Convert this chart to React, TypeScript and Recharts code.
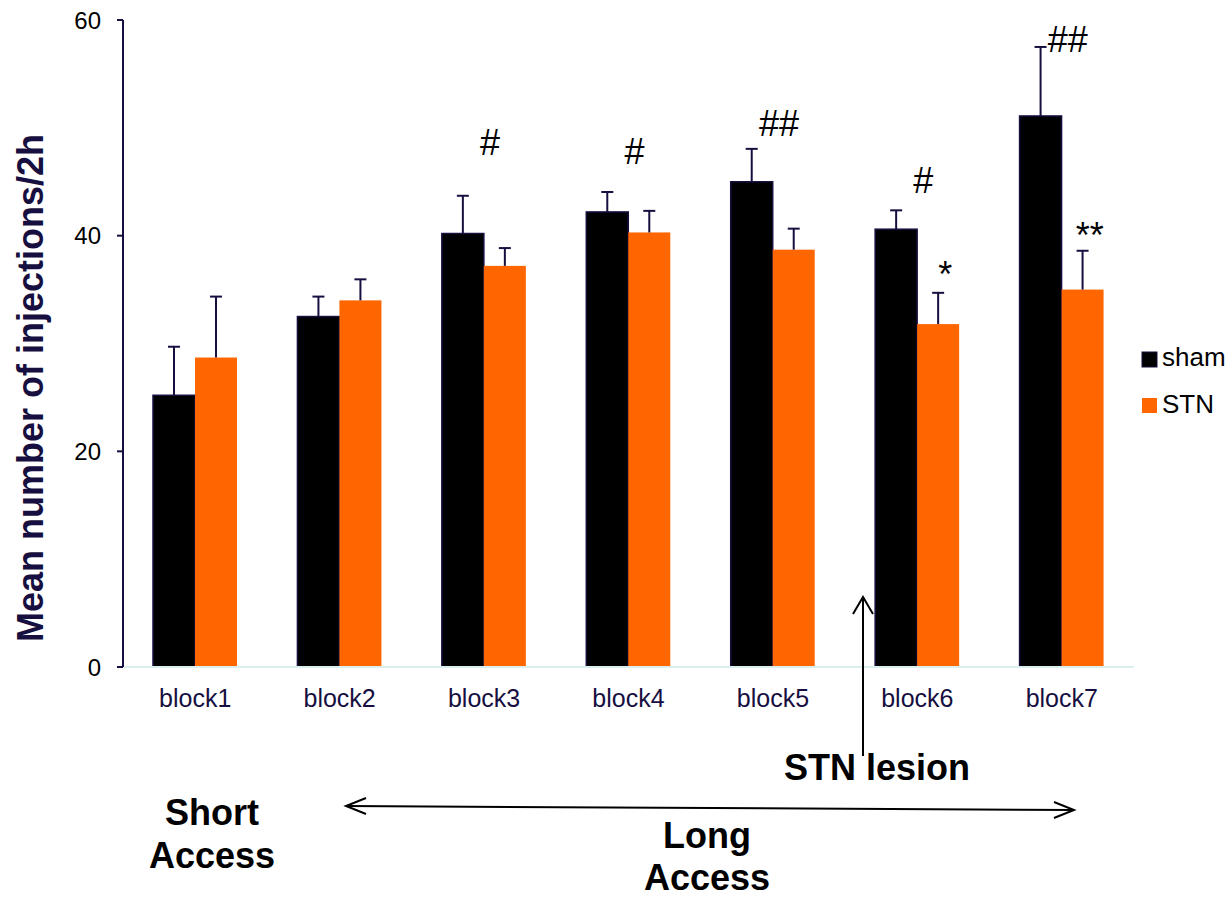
import React from "react";
import { BarChart, Bar, XAxis, YAxis, ReferenceDot } from "recharts";

// values (mean injections per 2h, SEM)
const blocks = ["block1", "block2", "block3", "block4", "block5", "block6", "block7"];
const sham = [25.2, 32.5, 40.2, 42.2, 45.0, 40.6, 51.1];
const shamErr = [4.5, 1.85, 3.5, 1.85, 3.05, 1.75, 6.4];
const stn = [28.7, 34.0, 37.2, 40.3, 38.7, 31.8, 35.0];
const stnErr = [5.65, 1.95, 1.65, 2.0, 1.95, 2.9, 3.6];
const yTicks = [0, 20, 40, 60];

// significance marks and the level (in injections) they sit at
const shamMarks = ["", "", "#", "#", "##", "#", "##"];
const shamMarkLevel = [0, 0, 47.5, 46.6, 49.2, 44.0, 57.0];
const stnMarks = ["", "", "", "", "", "*", "**"];
const stnMarkLevel = [0, 0, 0, 0, 0, 35.2, 38.9];

const data = blocks.map((b, i) => ({
  block: b,
  sham: sham[i],
  shamErr: shamErr[i],
  stn: stn[i],
  stnErr: stnErr[i],
}));

const NAVY = "#160f3f";
const ORANGE = "#ff6600";
const FONT = "'Liberation Sans', Arial, Helvetica, sans-serif";

// bar with a one-sided (upward) error bar, like the original
const barWithError = (errKey: string, valKey: string, fill: string, stroke?: string) =>
  (props: any) => {
    const { x, y, width, height, payload } = props;
    const v = payload[valKey];
    const err = payload[errKey];
    const e = v ? (height / v) * err : 0;
    const cx = x + width / 2;
    return (
      <g>
        <rect x={x} y={y} width={width} height={height} fill={fill}
          stroke={stroke || "none"} strokeWidth={stroke ? 1.5 : 0} />
        <line x1={cx} x2={cx} y1={y} y2={y - e} stroke={NAVY} strokeWidth={2} />
        <line x1={cx - 6} x2={cx + 6} y1={y - e} y2={y - e} stroke={NAVY} strokeWidth={2} />
      </g>
    );
  };

const markShape = (text: string, dx: number) => (p: any) => (
  <text x={p.cx + dx} y={p.cy} textAnchor="middle" fontSize={36}
    fontFamily={FONT} fill="#000">{text}</text>
);

export default function App() {
  return (
    <div style={{ position: "absolute", left: 0, top: 0, width: 1229, height: 897, background: "#fff" }}>
      <BarChart
        width={1229}
        height={897}
        data={data}
        margin={{ top: 20, right: 95, left: 63, bottom: 200 }}
        barGap={0}
        barSize={42}
      >
        <XAxis
          dataKey="block"
          height={30}
          tickLine={false}
          tickSize={0}
          tickMargin={22}
          axisLine={{ stroke: "#dcefef", strokeWidth: 2 }}
          tick={{ fill: NAVY, fontSize: 25, fontFamily: FONT }}
        />
        <YAxis
          width={60}
          domain={[0, 60]}
          ticks={yTicks}
          tickSize={6}
          tickMargin={16}
          axisLine={{ stroke: NAVY, strokeWidth: 2 }}
          tickLine={{ stroke: NAVY, strokeWidth: 2 }}
          tick={{ fill: "#000", fontSize: 24, fontFamily: FONT }}
        />
        <Bar dataKey="sham" isAnimationActive={false}
          shape={barWithError("shamErr", "sham", "#000", NAVY)} />
        <Bar dataKey="stn" isAnimationActive={false}
          shape={barWithError("stnErr", "stn", ORANGE)} />
        {blocks.map((b, i) =>
          shamMarks[i] ? (
            <ReferenceDot key={"h" + b} x={b} y={shamMarkLevel[i]} r={0}
              shape={markShape(shamMarks[i], 6)} />
          ) : null
        )}
        {blocks.map((b, i) =>
          stnMarks[i] ? (
            <ReferenceDot key={"s" + b} x={b} y={stnMarkLevel[i]} r={0}
              shape={markShape(stnMarks[i], 28)} />
          ) : null
        )}
      </BarChart>

      {/* axis title, legend and the access / lesion annotations */}
      <svg width={1229} height={897}
        style={{ position: "absolute", left: 0, top: 0, pointerEvents: "none" }}
        fontFamily={FONT}>
        <text transform="translate(43,388) rotate(-90)" textAnchor="middle"
          fontSize={36} fontWeight="bold" fill={NAVY}>Mean number of injections/2h</text>

        <rect x={1142} y={352} width={15} height={15} fill="#000" stroke={NAVY} />
        <text x={1162} y={366} fontSize={26} fill="#000">sham</text>
        <rect x={1142} y={398} width={15} height={15} fill={ORANGE} />
        <text x={1162} y={413} fontSize={26} fill="#000">STN</text>

        {/* lesion arrow */}
        <line x1={863} y1={597} x2={863} y2={756} stroke="#000" strokeWidth={2} />
        <polyline points="853,614 863,597 873,614" fill="none" stroke="#000" strokeWidth={2} />
        <text x={877} y={780} textAnchor="middle" fontSize={36} fontWeight="bold" fill="#000">STN lesion</text>

        {/* long access span */}
        <line x1={346} y1={806} x2={1074} y2={810} stroke="#000" strokeWidth={2} />
        <polyline points="366,798 346,806 366,814" fill="none" stroke="#000" strokeWidth={2} />
        <polyline points="1054,802 1074,810 1054,818" fill="none" stroke="#000" strokeWidth={2} />

        <text x={212} y={825} textAnchor="middle" fontSize={36} fontWeight="bold" fill="#000">Short</text>
        <text x={212} y={868} textAnchor="middle" fontSize={36} fontWeight="bold" fill="#000">Access</text>
        <text x={707} y={848} textAnchor="middle" fontSize={36} fontWeight="bold" fill="#000">Long</text>
        <text x={707} y={890} textAnchor="middle" fontSize={36} fontWeight="bold" fill="#000">Access</text>
      </svg>
    </div>
  );
}
